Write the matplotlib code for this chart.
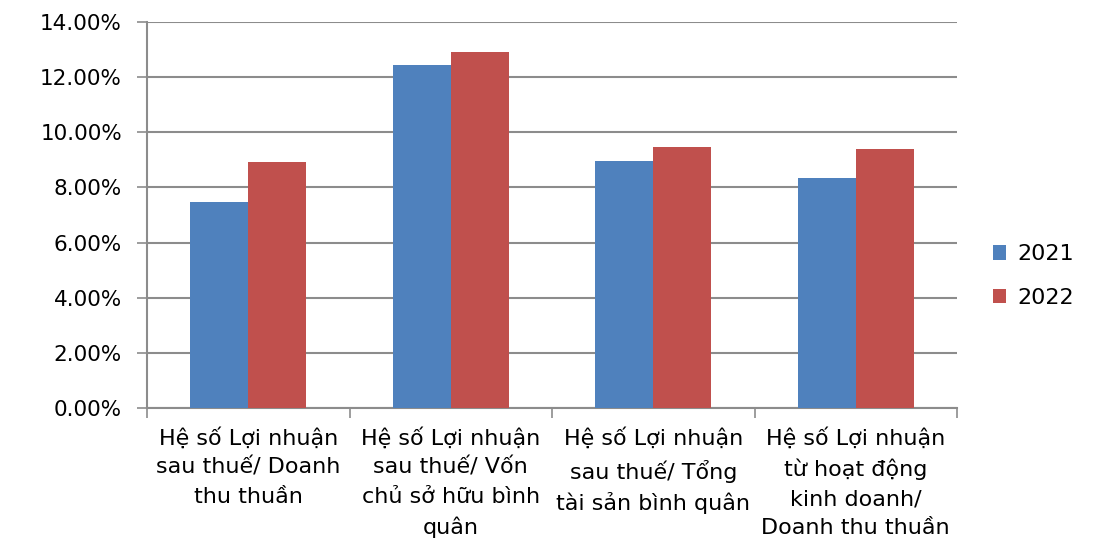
import numpy as np
import matplotlib
matplotlib.use('Agg')
import matplotlib.pyplot as plt
from matplotlib.ticker import FuncFormatter

categories = ['Hệ số Lợi nhuận\nsau thuế/ Doanh\nthu thuần',
              'Hệ số Lợi nhuận\nsau thuế/ Vốn\nchủ sở hữu bình\nquân',
              'Hệ số Lợi nhuận\nsau thuế/ Tổng\ntài sản bình quân',
              'Hệ số Lợi nhuận\ntừ hoạt động\nkinh doanh/\nDoanh thu thuần']
y2021 = [0.0748, 0.1244, 0.0897, 0.0835]
y2022 = [0.0892, 0.1290, 0.0948, 0.0938]

plt.rcParams['font.family'] = ['DejaVu Sans']
fig = plt.figure(figsize=(10.94, 5.52), dpi=100)
ax = fig.add_axes([147 / 1094, 1 - 408 / 552, 810 / 1094, 386 / 552])

x = np.arange(len(categories))
w = 0.287
ax.bar(x - w / 2, y2021, w, color='#4F81BD', label='2021', zorder=3)
ax.bar(x + w / 2, y2022, w, color='#C0504D', label='2022', zorder=3)

ax.set_xlim(-0.5, len(categories) - 0.5)
ax.set_ylim(0, 0.14)
ax.set_yticks(np.arange(0, 0.141, 0.02))
ax.yaxis.set_major_formatter(FuncFormatter(lambda v, p: '%.2f%%' % (v * 100)))
ax.yaxis.grid(True, color='#8c8c8c', linewidth=1.5, zorder=0)

# category labels centred under each pair, boundary ticks as minor ticks
ax.set_xticks(x)
ax.set_xticklabels(categories, fontsize=16, linespacing=1.55, va='top')
ax.set_xticks(np.arange(-0.5, len(categories)), minor=True)
ax.tick_params(axis='x', which='major', length=0, pad=14)
ax.tick_params(axis='x', which='minor', length=7, color='#8c8c8c', width=1.2, direction='out')
ax.tick_params(axis='y', length=7, color='#8c8c8c', width=1.2, labelsize=15.5, pad=11)

for s in ['top', 'right']:
    ax.spines[s].set_visible(False)
for s in ['left', 'bottom']:
    ax.spines[s].set_color('#8c8c8c')
    ax.spines[s].set_linewidth(1.5)

ax.legend(loc='center left', bbox_to_anchor=(973 / 1094, 0.5), bbox_transform=fig.transFigure,
          frameon=False, fontsize=16, handlelength=0.6, handleheight=0.6,
          labelspacing=1.05, handletextpad=0.5)

fig.savefig('out.png', dpi=100)
